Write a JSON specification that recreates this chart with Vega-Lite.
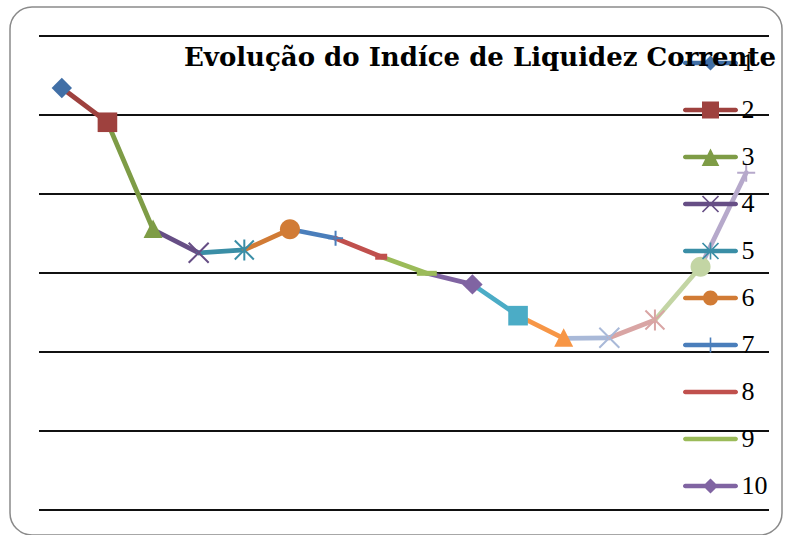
{
  "$schema": "https://vega.github.io/schema/vega-lite/v6.json",
  "width": 772,
  "height": 528,
  "autosize": "none",
  "padding": {"left": 10, "top": 7, "right": 3, "bottom": 0},
  "background": "white",
  "title": {
    "text": "Evolução do Indíce de Liquidez Corrente",
    "font": "DejaVu Serif",
    "fontSize": 26,
    "fontWeight": "bold",
    "color": "black",
    "anchor": "middle",
    "frame": "group",
    "offset": 0,
    "baseline": "alphabetic",
    "dx": 84,
    "dy": 85
  },
  "datasets": {
    "pts": [
      {"s": 1, "i": 1, "v": 2.671},
      {"s": 2, "i": 2, "v": 2.454},
      {"s": 3, "i": 3, "v": 1.775},
      {"s": 4, "i": 4, "v": 1.628},
      {"s": 5, "i": 5, "v": 1.646},
      {"s": 6, "i": 6, "v": 1.777},
      {"s": 7, "i": 7, "v": 1.72},
      {"s": 8, "i": 8, "v": 1.603},
      {"s": 9, "i": 9, "v": 1.498},
      {"s": 10, "i": 10, "v": 1.428},
      {"s": 11, "i": 11, "v": 1.23},
      {"s": 12, "i": 12, "v": 1.087},
      {"s": 13, "i": 13, "v": 1.09},
      {"s": 14, "i": 14, "v": 1.203},
      {"s": 15, "i": 15, "v": 1.54},
      {"s": 16, "i": 16, "v": 2.135}
    ],
    "segs": [
      {"s": 2, "i": 1, "v": 2.671}, {"s": 2, "i": 2, "v": 2.454},
      {"s": 3, "i": 2, "v": 2.454}, {"s": 3, "i": 3, "v": 1.775},
      {"s": 4, "i": 3, "v": 1.775}, {"s": 4, "i": 4, "v": 1.628},
      {"s": 5, "i": 4, "v": 1.628}, {"s": 5, "i": 5, "v": 1.646},
      {"s": 6, "i": 5, "v": 1.646}, {"s": 6, "i": 6, "v": 1.777},
      {"s": 7, "i": 6, "v": 1.777}, {"s": 7, "i": 7, "v": 1.72},
      {"s": 8, "i": 7, "v": 1.72}, {"s": 8, "i": 8, "v": 1.603},
      {"s": 9, "i": 8, "v": 1.603}, {"s": 9, "i": 9, "v": 1.498},
      {"s": 10, "i": 9, "v": 1.498}, {"s": 10, "i": 10, "v": 1.428},
      {"s": 11, "i": 10, "v": 1.428}, {"s": 11, "i": 11, "v": 1.23},
      {"s": 12, "i": 11, "v": 1.23}, {"s": 12, "i": 12, "v": 1.087},
      {"s": 13, "i": 12, "v": 1.087}, {"s": 13, "i": 13, "v": 1.09},
      {"s": 14, "i": 13, "v": 1.09}, {"s": 14, "i": 14, "v": 1.203},
      {"s": 15, "i": 14, "v": 1.203}, {"s": 15, "i": 15, "v": 1.54},
      {"s": 16, "i": 15, "v": 1.54}, {"s": 16, "i": 16, "v": 2.135}
    ],
    "grid": [{"g": 0}, {"g": 0.5}, {"g": 1}, {"g": 1.5}, {"g": 2}, {"g": 2.5}, {"g": 3}]
  },
  "layer": [
    {
      "data": {"name": "grid"},
      "mark": {"type": "rule", "stroke": "#111111", "strokeWidth": 2},
      "encoding": {
        "y": {"field": "g", "type": "quantitative", "axis": null,
              "scale": {"domain": [-0.1582, 3.1835], "nice": false, "zero": false}},
        "x": {"datum": 0.5, "type": "quantitative", "axis": null,
              "scale": {"domain": [-0.1356, 16.7849], "nice": false, "zero": false}},
        "x2": {"datum": 16.5}
      }
    },
    {
      "data": {"name": "pts"},
      "encoding": {
        "x": {"field": "i", "type": "quantitative", "axis": null,
              "scale": {"domain": [-0.1356, 16.7849], "nice": false, "zero": false}},
        "y": {"field": "v", "type": "quantitative", "axis": null,
              "scale": {"domain": [-0.1582, 3.1835], "nice": false, "zero": false}}
      },
      "layer": [
        {
          "mark": {"type": "point", "filled": true, "opacity": 0, "size": 10},
          "encoding": {
            "color": {
              "field": "s", "type": "nominal",
              "scale": {
                "domain": [1, 2, 3, 4, 5, 6, 7, 8, 9, 10, 11, 12, 13, 14, 15, 16],
                "range": ["#416FA6", "#9E413E", "#7E9C46", "#664E85", "#3A8EA6", "#D17B35", "#4A7EBB", "#C0504D", "#9BBB59", "#8064A2", "#4BACC6", "#F79646", "#A9B9D8", "#D9A5A4", "#C3D5A4", "#B6A9CB"]
              },
              "legend": {
                "title": null,
                "orient": "none",
                "direction": "vertical",
                "legendX": 680.5,
                "legendY": 36,
                "values": [1, 2, 3, 4, 5, 6, 7, 8, 9, 10],
                "padding": 0,
                "symbolSize": 1600,
                "symbolStrokeWidth": 0,
                "symbolOpacity": 1,
                "rowPadding": 7,
                "labelOffset": 11,
                "labelFont": "Liberation Serif",
                "labelFontSize": 26,
                "labelColor": "black"
              }
            },
            "shape": {
              "field": "s", "type": "nominal", "legend": null,
              "scale": {
                "domain": [1, 2, 3, 4, 5, 6, 7, 8, 9, 10, 11, 12, 13, 14, 15, 16],
                "range": [
                  "M0,-1M0,1M-1.26,-0.115H1.26A0.115,0.115 0 0 1 1.26,0.115H-1.26A0.115,0.115 0 0 1 -1.26,-0.115Z M0,-0.375L0.375,0L0,0.375L-0.375,0Z",
                  "M0,-1M0,1M-1.26,-0.115H1.26A0.115,0.115 0 0 1 1.26,0.115H-1.26A0.115,0.115 0 0 1 -1.26,-0.115Z M-0.425,-0.425H0.425V0.425H-0.425Z",
                  "M0,-1M0,1M-1.26,-0.115H1.26A0.115,0.115 0 0 1 1.26,0.115H-1.26A0.115,0.115 0 0 1 -1.26,-0.115Z M0,-0.42L0.44,0.45H-0.44Z",
                  "M0,-1M0,1M-1.26,-0.115H1.26A0.115,0.115 0 0 1 1.26,0.115H-1.26A0.115,0.115 0 0 1 -1.26,-0.115Z M-0.37,-0.43L0.43,0.37L0.37,0.43L-0.43,-0.37Z M-0.37,0.43L-0.43,0.37L0.37,-0.43L0.43,-0.37Z",
                  "M0,-1M0,1M-1.26,-0.115H1.26A0.115,0.115 0 0 1 1.26,0.115H-1.26A0.115,0.115 0 0 1 -1.26,-0.115Z M-0.37,-0.43L0.43,0.37L0.37,0.43L-0.43,-0.37Z M-0.37,0.43L-0.43,0.37L0.37,-0.43L0.43,-0.37Z M-0.04,-0.42H0.04V0.42H-0.04Z",
                  "M0,-1M0,1M-1.26,-0.115H1.26A0.115,0.115 0 0 1 1.26,0.115H-1.26A0.115,0.115 0 0 1 -1.26,-0.115Z M-0.375,0A0.375,0.375 0 1 1 0.375,0A0.375,0.375 0 1 1 -0.375,0Z",
                  "M0,-1M0,1M-1.26,-0.115H1.26A0.115,0.115 0 0 1 1.26,0.115H-1.26A0.115,0.115 0 0 1 -1.26,-0.115Z M-0.04,-0.38H0.04V0.38H-0.04Z",
                  "M0,-1M0,1M-1.26,-0.115H1.26A0.115,0.115 0 0 1 1.26,0.115H-1.26A0.115,0.115 0 0 1 -1.26,-0.115Z",
                  "M0,-1M0,1M-1.26,-0.11H1.26A0.11,0.11 0 0 1 1.26,0.11H-1.26A0.11,0.11 0 0 1 -1.26,-0.11Z",
                  "M0,-1M0,1M-1.26,-0.115H1.26A0.115,0.115 0 0 1 1.26,0.115H-1.26A0.115,0.115 0 0 1 -1.26,-0.115Z M0,-0.38L0.38,0L0,0.38L-0.38,0Z",
                  "M0,-1M0,1M-1.26,-0.115H1.26A0.115,0.115 0 0 1 1.26,0.115H-1.26A0.115,0.115 0 0 1 -1.26,-0.115Z M-0.42,-0.42H0.42V0.42H-0.42Z",
                  "M0,-1M0,1M-1.26,-0.115H1.26A0.115,0.115 0 0 1 1.26,0.115H-1.26A0.115,0.115 0 0 1 -1.26,-0.115Z M0,-0.41L0.43,0.44H-0.43Z",
                  "M0,-1M0,1M-1.26,-0.115H1.26A0.115,0.115 0 0 1 1.26,0.115H-1.26A0.115,0.115 0 0 1 -1.26,-0.115Z M-0.36,-0.42L0.42,0.36L0.36,0.42L-0.42,-0.36Z M-0.36,0.42L-0.42,0.36L0.36,-0.42L0.42,-0.36Z",
                  "M0,-1M0,1M-1.26,-0.115H1.26A0.115,0.115 0 0 1 1.26,0.115H-1.26A0.115,0.115 0 0 1 -1.26,-0.115Z M-0.36,-0.42L0.42,0.36L0.36,0.42L-0.42,-0.36Z M-0.36,0.42L-0.42,0.36L0.36,-0.42L0.42,-0.36Z M-0.04,-0.41H0.04V0.41H-0.04Z",
                  "M0,-1M0,1M-1.26,-0.115H1.26A0.115,0.115 0 0 1 1.26,0.115H-1.26A0.115,0.115 0 0 1 -1.26,-0.115Z M-0.37,0A0.37,0.37 0 1 1 0.37,0A0.37,0.37 0 1 1 -0.37,0Z",
                  "M0,-1M0,1M-1.26,-0.115H1.26A0.115,0.115 0 0 1 1.26,0.115H-1.26A0.115,0.115 0 0 1 -1.26,-0.115Z M-0.04,-0.37H0.04V0.37H-0.04Z"
                ]
              }
            }
          }
        },
        {
          "data": {"name": "segs"},
          "mark": {"type": "line", "strokeWidth": 4.75, "strokeCap": "round", "strokeJoin": "round"},
          "encoding": {
            "color": {"field": "s", "type": "nominal", "legend": null},
            "order": {"field": "i", "type": "quantitative"}
          }
        },
        {
          "transform": [{"filter": {"field": "s", "oneOf": [1, 10]}}],
          "mark": {"type": "point", "filled": true, "opacity": 1, "size": 400, "shape": "M0,-1.02L1.02,0L0,1.02L-1.02,0Z"},
          "encoding": {"color": {"field": "s", "type": "nominal", "legend": null}}
        },
        {
          "transform": [{"filter": {"field": "s", "oneOf": [2, 11]}}],
          "mark": {"type": "point", "filled": true, "opacity": 1, "size": 400, "shape": "M-0.98,-0.98H0.98V0.98H-0.98Z"},
          "encoding": {"color": {"field": "s", "type": "nominal", "legend": null}}
        },
        {
          "transform": [{"filter": {"field": "s", "oneOf": [3, 12]}}],
          "mark": {"type": "point", "filled": true, "opacity": 1, "size": 400, "shape": "M0,-1L0.95,0.85H-0.95Z"},
          "encoding": {"color": {"field": "s", "type": "nominal", "legend": null}}
        },
        {
          "transform": [{"filter": {"field": "s", "oneOf": [6, 15]}}],
          "mark": {"type": "point", "filled": true, "opacity": 1, "size": 400, "shape": "M-1,0A1,1 0 1 1 1,0A1,1 0 1 1 -1,0Z"},
          "encoding": {"color": {"field": "s", "type": "nominal", "legend": null}}
        },
        {
          "transform": [{"filter": {"field": "s", "oneOf": [8]}}],
          "mark": {"type": "point", "filled": true, "opacity": 1, "size": 400, "shape": "M-0.6,-0.3H0.6V0.3H-0.6Z"},
          "encoding": {"color": {"field": "s", "type": "nominal", "legend": null}}
        },
        {
          "transform": [{"filter": {"field": "s", "oneOf": [9]}}],
          "mark": {"type": "point", "filled": true, "opacity": 1, "size": 400, "shape": "M-1,-0.25H1V0.25H-1Z"},
          "encoding": {"color": {"field": "s", "type": "nominal", "legend": null}}
        },
        {
          "transform": [{"filter": {"field": "s", "oneOf": [4, 13]}}],
          "mark": {"type": "point", "filled": false, "opacity": 1, "size": 400, "strokeWidth": 2, "shape": "M-1,-1L1,1M-1,1L1,-1"},
          "encoding": {"color": {"field": "s", "type": "nominal", "legend": null}}
        },
        {
          "transform": [{"filter": {"field": "s", "oneOf": [5, 14]}}],
          "mark": {"type": "point", "filled": false, "opacity": 1, "size": 400, "strokeWidth": 2, "shape": "M-0.95,-0.95L0.95,0.95M-0.95,0.95L0.95,-0.95M0,-1.05V1.05"},
          "encoding": {"color": {"field": "s", "type": "nominal", "legend": null}}
        },
        {
          "transform": [{"filter": {"field": "s", "oneOf": [7]}}],
          "mark": {"type": "point", "filled": false, "opacity": 1, "size": 400, "strokeWidth": 2, "shape": "M-0.75,0H0.75M0,-0.75V0.75"},
          "encoding": {"color": {"field": "s", "type": "nominal", "legend": null}}
        },
        {
          "transform": [{"filter": {"field": "s", "oneOf": [16]}}],
          "mark": {"type": "point", "filled": false, "opacity": 1, "size": 400, "strokeWidth": 2, "shape": "M-0.9,0H0.9M0,-0.9V0.9"},
          "encoding": {"color": {"field": "s", "type": "nominal", "legend": null}}
        }
      ]
    }
  ],
  "config": {
    "view": {"stroke": "#8a8a8a", "strokeWidth": 1.5, "cornerRadius": 22}
  }
}
